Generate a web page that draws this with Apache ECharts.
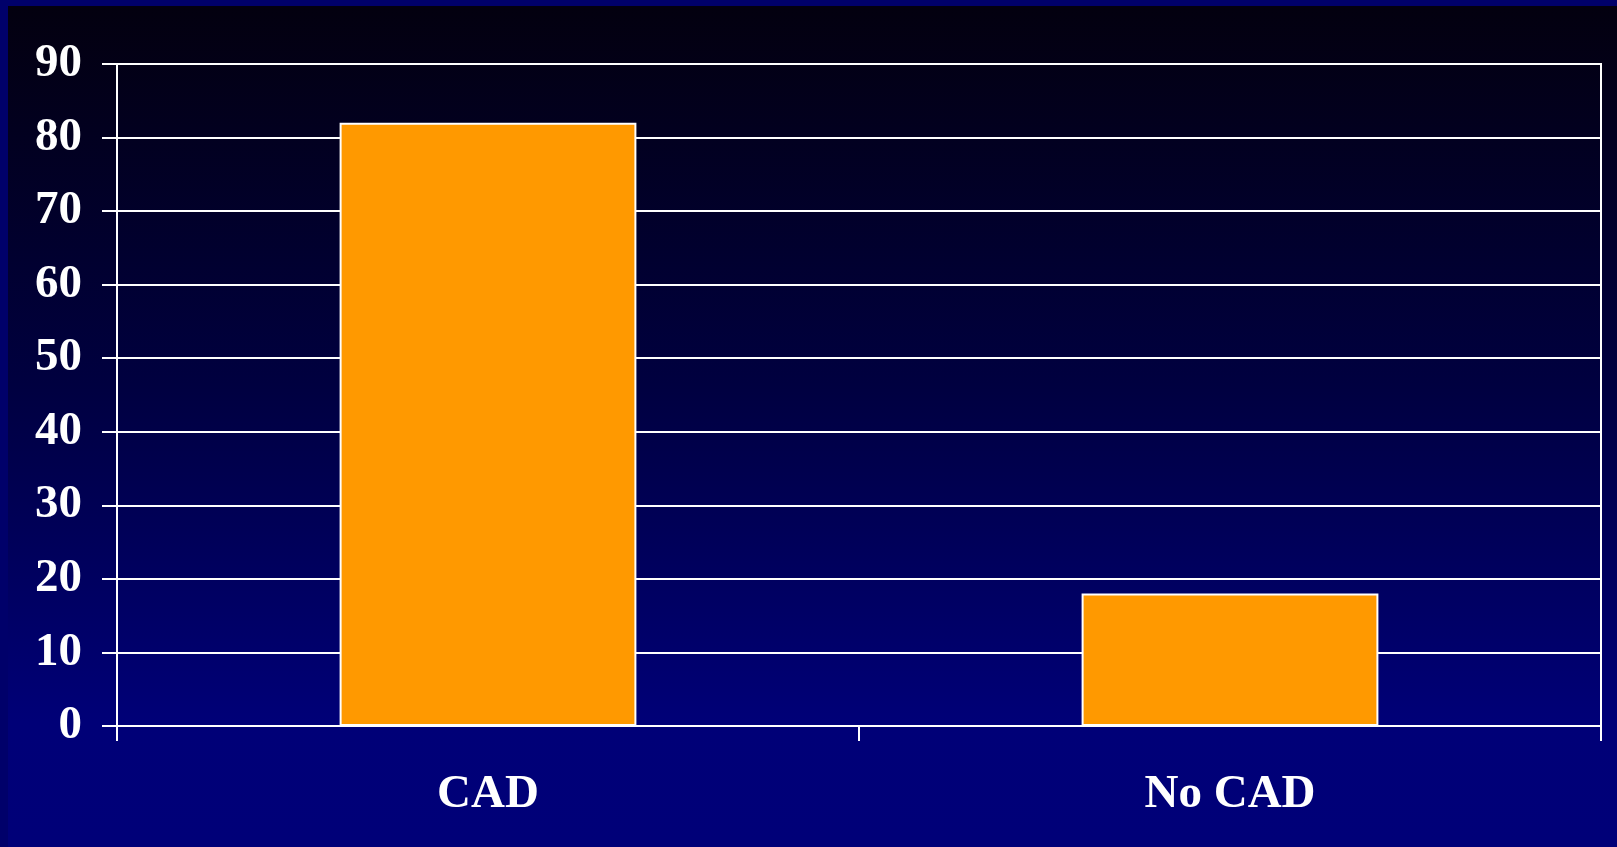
<!DOCTYPE html>
<html>
<head>
<meta charset="utf-8">
<script src="https://cdn.jsdelivr.net/npm/echarts@6/dist/echarts.min.js"></script>
<style>
html,body{margin:0;padding:0;background:#000066;}
#chart{width:1617px;height:847px;}
</style>
</head>
<body>
<div id="chart"></div>
<script>
const categories = ['CAD', 'No CAD'];
const values = [82, 18];
const yTicks = { min: 0, max: 90, interval: 10 };

const chart = echarts.init(document.getElementById('chart'), null, { renderer: 'canvas' });
const font = "Liberation Serif";
chart.setOption({
  backgroundColor: '#00006a',
  animation: false,
  graphic: [{
    type: 'rect', z: -100, silent: true,
    shape: { x: 8, y: 6, width: 1609, height: 841 },
    style: {
      fill: new echarts.graphic.LinearGradient(0, 0, 0, 1, [
        { offset: 0, color: '#03000f' },
        { offset: 0.45, color: '#000040' },
        { offset: 0.85, color: '#000077' },
        { offset: 1, color: '#000078' }
      ])
    }
  }],
  grid: {
    left: 117, right: 16, top: 64, bottom: 121,
    show: true, borderColor: '#ffffff', borderWidth: 2, backgroundColor: 'transparent'
  },
  xAxis: {
    type: 'category',
    data: categories,
    axisLine: { lineStyle: { color: '#ffffff', width: 2 } },
    axisTick: { show: true, length: 15, lineStyle: { color: '#ffffff', width: 2 } },
    axisLabel: { color: '#ffffff', fontFamily: font, fontWeight: 'bold', fontSize: 47, margin: 45 }
  },
  yAxis: {
    type: 'value',
    min: yTicks.min, max: yTicks.max, interval: yTicks.interval,
    axisLine: { show: true, lineStyle: { color: '#ffffff', width: 2 } },
    axisTick: { show: true, length: 15, lineStyle: { color: '#ffffff', width: 2 } },
    splitLine: { show: true, lineStyle: { color: '#ffffff', width: 2 } },
    axisLabel: { color: '#ffffff', fontFamily: font, fontWeight: 'bold', fontSize: 47, margin: 35, padding: [6, 0, 0, 0] }
  },
  series: [{
    type: 'bar',
    data: values,
    barWidth: '40%',
    itemStyle: { color: '#ff9900', borderColor: '#ffffff', borderWidth: 2 }
  }]
});
</script>
</body>
</html>
